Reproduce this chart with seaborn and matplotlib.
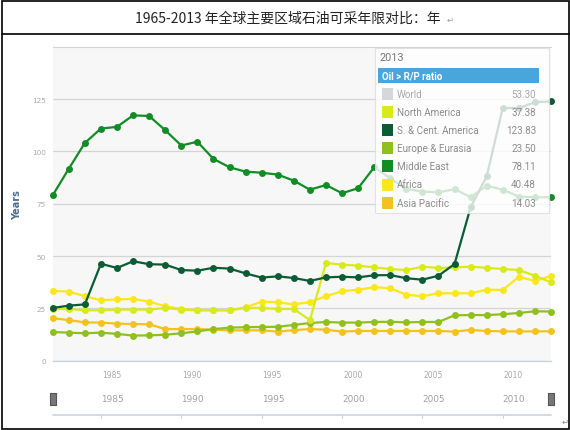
import numpy as np
import pandas as pd
import seaborn as sns
import matplotlib.pyplot as plt
import matplotlib.transforms as mtransforms
from matplotlib.patches import Rectangle
from matplotlib.lines import Line2D
from matplotlib.path import Path

# R/P ratio (years), 1982-2013
years = list(range(1982, 2014))

north_america = [24.7, 24.7, 24.1, 24.1, 24.4, 24.4, 24.4, 25.2, 24.4, 24.1, 24.1, 24.1, 25.2, 25.2, 24.7, 24.7,
                 19.4, 46.7, 45.9, 45.4, 44.6, 43.8, 43.3, 44.9, 44.3, 44.6, 44.9, 44.4, 43.8, 43.3, 40.6, 37.38]
sc_america = [25.2, 26.3, 26.9, 46.3, 44.3, 47.5, 46.1, 45.9, 43.3, 43.0, 44.4, 44.0, 41.7, 39.7, 40.3, 39.5,
              38.1, 39.8, 40.1, 39.8, 40.8, 40.9, 39.4, 38.7, 40.6, 46.2, 73.3, 88.1, 120.7, 120.7, 123.5, 123.83]
europe_eurasia = [13.7, 13.4, 13.1, 13.4, 12.8, 12.0, 12.1, 12.4, 13.1, 14.0, 15.1, 15.8, 16.0, 16.1, 16.2, 17.1,
                  18.0, 18.5, 18.2, 18.2, 18.5, 18.6, 18.3, 18.5, 18.5, 21.7, 21.8, 21.8, 22.2, 22.8, 23.6, 23.50]
middle_east = [79.0, 91.7, 104.0, 110.9, 111.7, 117.2, 116.9, 110.1, 102.8, 104.6, 96.4, 92.4, 90.3, 89.8, 88.9, 86.0,
               81.7, 83.9, 80.0, 82.4, 92.4, 87.1, 82.0, 80.8, 80.4, 82.0, 78.1, 83.6, 81.7, 78.4, 78.1, 78.11]
africa = [33.3, 33.0, 30.8, 28.9, 29.3, 29.5, 28.2, 26.0, 24.7, 24.1, 24.1, 24.1, 25.5, 28.2, 27.9, 26.9,
          28.0, 30.8, 33.2, 33.9, 35.1, 34.6, 31.5, 30.8, 32.2, 32.2, 32.2, 33.9, 33.8, 40.1, 38.1, 40.48]
asia_pacific = [20.3, 19.4, 18.3, 18.2, 17.7, 17.5, 17.4, 15.1, 15.1, 15.1, 14.8, 14.5, 14.5, 14.5, 13.9, 14.6,
                15.1, 14.8, 13.9, 14.2, 14.2, 14.2, 14.2, 14.2, 14.2, 13.9, 14.7, 14.2, 14.0, 14.0, 14.0, 14.03]

legend_names = ['World', 'North America', 'S. & Cent. America', 'Europe & Eurasia',
                'Middle East', 'Africa', 'Asia Pacific']
legend_values = ['53.30', '37.38', '123.83', '23.50', '78.11', '40.48', '14.03']
colors = ['#d4d8db', '#d8ea1c', '#0c5c33', '#90c01c', '#128c24', '#fbe71a', '#f4c21c']

tick_years = [1985, 1990, 1995, 2000, 2005, 2010]

series = {
    'North America': north_america,
    'S. & Cent. America': sc_america,
    'Europe & Eurasia': europe_eurasia,
    'Middle East': middle_east,
    'Africa': africa,
    'Asia Pacific': asia_pacific,
}
rows = []
for name, vals in series.items():
    for y, v in zip(years, vals):
        rows.append({'year': y, 'ratio': v, 'region': name})
df = pd.DataFrame(rows)
palette = dict(zip(legend_names, colors))

sns.set_style('white')
plt.rcParams['font.family'] = ['DejaVu Sans']

W, H = 570, 431
fig = plt.figure(figsize=(W / 100, H / 100), dpi=100)


def fx(x):
    return x / W


def fy(y):
    return 1 - y / H


ax = fig.add_axes([fx(52.7), fy(361.7), fx(551) - fx(52.7), fy(47.7) - fy(361.7)])
ax.set_facecolor('#f7f7f7')

sns.lineplot(data=df, x='year', y='ratio', hue='region', palette=palette,
             hue_order=['Asia Pacific', 'Europe & Eurasia', 'Africa', 'North America',
                        'Middle East', 'S. & Cent. America'],
             marker='o', markersize=5, markeredgewidth=0, linewidth=1.6,
             legend=False, ax=ax)
for ln in ax.lines:
    ln.set_clip_on(False)

ax.set_xlim(1982, 2013)
ax.set_ylim(0, 150)
ax.set_yticks([0, 25, 50, 75, 100, 125])
ax.yaxis.grid(True, color='#d4d4d4', linewidth=0.9)
ax.set_axisbelow(True)
ax.tick_params(axis='y', length=0, labelsize=5.2, labelcolor='#a8a8a8', pad=5)
ax.set_xticks(tick_years)
ax.set_xticklabels([str(t) for t in tick_years], ha='left')
ax.tick_params(axis='x', length=2.5, color='#c8d4e0', labelsize=5.5, labelcolor='#a8a8a8', pad=4)
for lab in ax.get_xticklabels():
    lab.set_transform(lab.get_transform() + mtransforms.ScaledTranslation(1 / 100, 0, fig.dpi_scale_trans))
ax.set_xlabel('')
ax.set_ylabel('')
for s in ['left', 'right']:
    ax.spines[s].set_visible(False)
ax.spines['top'].set_color('#d4d4d4')
ax.spines['bottom'].set_color('#c8d4e0')
ax.spines['bottom'].set_linewidth(1.0)

# navigator strip under the chart
blend = mtransforms.blended_transform_factory(ax.transData, ax.transAxes)
nav_lab_y = (361.7 - 400) / 314
nav_line_y = (361.7 - 415.5) / 314
for t in tick_years:
    ax.text(t, nav_lab_y, str(t), transform=blend, ha='left', va='center',
            fontsize=6.4, color='#a0a0a0')
    ax.add_line(Line2D([t, t], [nav_line_y, nav_line_y - 0.011], transform=blend,
                       color='#c8d4e0', linewidth=0.8, clip_on=False))
ax.add_line(Line2D([0, 1], [nav_line_y, nav_line_y], transform=ax.transAxes,
                   color='#c8d4e0', linewidth=1.2, clip_on=False))
handle = Path([(-0.45, -1), (0.45, -1), (0.45, 1), (-0.45, 1), (-0.45, -1)],
              [Path.MOVETO, Path.LINETO, Path.LINETO, Path.LINETO, Path.CLOSEPOLY])
ax.plot([years[0], years[-1]], [nav_lab_y, nav_lab_y], transform=blend, linestyle='none',
        marker=handle, markersize=9, markerfacecolor='#777777', markeredgecolor='#555555',
        markeredgewidth=0.8, clip_on=False)

# legend panel
fig.patches.append(Rectangle((fx(375), fy(214)), fx(549) - fx(375), fy(49) - fy(214),
                             transform=fig.transFigure, facecolor='white', alpha=0.8,
                             edgecolor='#dcdcdc', linewidth=0.8, zorder=5))
fig.text(fx(380), fy(58), '2013', fontsize=7.8, color='#777777', va='center', ha='left',
         family='Roboto', zorder=6)
fig.patches.append(Rectangle((fx(378), fy(84)), fx(539) - fx(378), fy(69) - fy(84),
                             transform=fig.transFigure, facecolor='#48a6dc',
                             edgecolor='none', zorder=6))
fig.text(fx(382), fy(76.5), 'Oil > R/P ratio', fontsize=7, fontweight='bold', color='white',
         va='center', ha='left', family='Roboto', zorder=7)
for i, (name, val, col) in enumerate(zip(legend_names, legend_values, colors)):
    yc = 95 + 18.1 * i
    fig.patches.append(Rectangle((fx(381.7), fy(yc + 6)), fx(11.6), fy(0) - fy(12),
                                 transform=fig.transFigure, facecolor=col,
                                 edgecolor='none', zorder=6))
    tc = '#a8a8a8' if name == 'World' else '#8c8c8c'
    fig.text(fx(397), fy(yc), name, fontsize=7.1, color=tc, va='center', ha='left',
             family='Roboto', zorder=7)
    fig.text(fx(536), fy(yc), val, fontsize=7.1, color=tc, va='center', ha='right',
             family='Roboto', zorder=7)

fig.text(fx(17.5), fy(205), 'Years', rotation=90, fontsize=7, fontweight='bold',
         color='#4d6d8f', ha='center', va='center')

# title row of the surrounding table
fig.text(fx(288), fy(19), '1965-2013 年全球主要区域石油可采年限对比：年', fontsize=10,
         color='#222222', ha='center', va='center', family=['Noto Sans CJK SC', 'DejaVu Sans'])
fig.text(fx(450), fy(20), '↵', fontsize=6, color='#999999', ha='center', va='center')
fig.text(fx(565), fy(422), '↵', fontsize=6, color='#888888', ha='center', va='center')
fig.patches.append(Rectangle((fx(1.5), fy(429.5)), fx(567), fy(0) - fy(428),
                             transform=fig.transFigure, facecolor='none',
                             edgecolor='black', linewidth=1.2, zorder=8))
fig.lines.append(Line2D([fx(1.5), fx(568.5)], [fy(35), fy(35)], transform=fig.transFigure,
                        color='black', linewidth=1.2, zorder=8))

fig.savefig('out.png', dpi=100)
